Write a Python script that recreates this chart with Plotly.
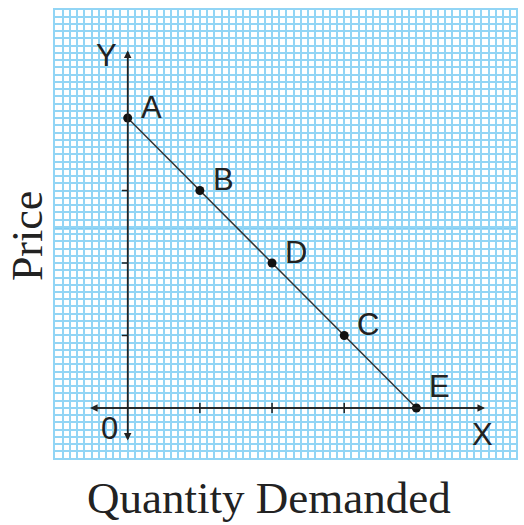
import plotly.graph_objects as go

# demand schedule points (quantity, price) in grid units
point_labels = ["A", "B", "D", "C", "E"]
quantity = [0, 1, 2, 3, 4]
price = [4, 3, 2, 1, 0]
tick_positions = [1, 2, 3]

GRID_BLUE = "#92d5f5"
INK = "#222222"
SANS = "Liberation Sans, Arial, sans-serif"
SERIF = "Liberation Serif, Times New Roman, serif"

fig = go.Figure()

# demand line with points
fig.add_trace(go.Scatter(
    x=quantity, y=price, mode="lines+markers",
    line=dict(color="#333333", width=1.5),
    marker=dict(color="#111111", size=9),
    hoverinfo="skip", showlegend=False,
))

# axis lines with arrowheads
axis_arrows = [
    dict(x=4.95, y=0, ax=-0.52, ay=0),
    dict(x=-0.52, y=0, ax=4.95, ay=0),
    dict(x=0, y=4.93, ax=0, ay=-0.45),
    dict(x=0, y=-0.45, ax=0, ay=4.93),
]
for a in axis_arrows:
    fig.add_annotation(
        x=a["x"], y=a["y"], ax=a["ax"], ay=a["ay"],
        xref="x", yref="y", axref="x", ayref="y",
        showarrow=True, arrowhead=2, arrowsize=1, arrowwidth=1.5,
        arrowcolor=INK, text="",
    )

# tick marks
for t in tick_positions:
    fig.add_shape(type="line", x0=t, x1=t, y0=-0.07, y1=0.07,
                  line=dict(color=INK, width=1.5))
    fig.add_shape(type="line", x0=-0.08, x1=0, y0=t, y1=t,
                  line=dict(color=INK, width=1.5))

# heavier grid line across the middle
fig.add_shape(type="line", xref="paper", x0=0, x1=1, y0=2.48, y1=2.48,
              line=dict(color="#7fcdf3", width=3), layer="below")

# point labels (E sits a bit higher so it clears the x axis)
for lbl, q, p in zip(point_labels, quantity, price):
    fig.add_annotation(x=q, y=p, text=lbl, showarrow=False,
                       xanchor="left", yanchor="middle",
                       xshift=11, yshift=21 if p == 0 else 11,
                       font=dict(family=SANS, size=31, color=INK))

axis_letters = [("Y", -0.30, 4.86), ("X", 4.91, -0.36), ("0", -0.25, -0.28)]
for txt, x, y in axis_letters:
    fig.add_annotation(x=x, y=y, text=txt, showarrow=False,
                       xanchor="center", yanchor="middle",
                       font=dict(family=SANS, size=31, color=INK))

# axis titles
fig.add_annotation(xref="paper", yref="paper", x=-0.061, y=0.495, text="Price",
                   textangle=-90, showarrow=False, xanchor="center", yanchor="middle",
                   font=dict(family=SERIF, size=44, color=INK))
fig.add_annotation(xref="paper", yref="paper", x=0.464, y=-0.089, text="Quantity Demanded",
                   showarrow=False, xanchor="center", yanchor="middle",
                   font=dict(family=SERIF, size=45, color=INK))

fig.update_layout(
    width=524, height=525,
    margin=dict(l=55, r=6, t=10, b=67),
    paper_bgcolor="white", plot_bgcolor="white",
    showlegend=False,
)
fig.update_xaxes(range=[-1.007, 5.38], dtick=0.1, tick0=0, showgrid=True,
                 gridcolor=GRID_BLUE, gridwidth=2, zeroline=False,
                 showticklabels=False, ticks="", fixedrange=True,
                 showline=True, linecolor=GRID_BLUE, linewidth=2, mirror=True)
fig.update_yaxes(range=[-0.69, 5.49], dtick=0.1, tick0=0, showgrid=True,
                 gridcolor=GRID_BLUE, gridwidth=2, zeroline=False,
                 showticklabels=False, ticks="", fixedrange=True,
                 showline=True, linecolor=GRID_BLUE, linewidth=2, mirror=True)

fig.write_html("out.html", config={"displayModeBar": False},
               post_script="document.body.style.margin='0';")
